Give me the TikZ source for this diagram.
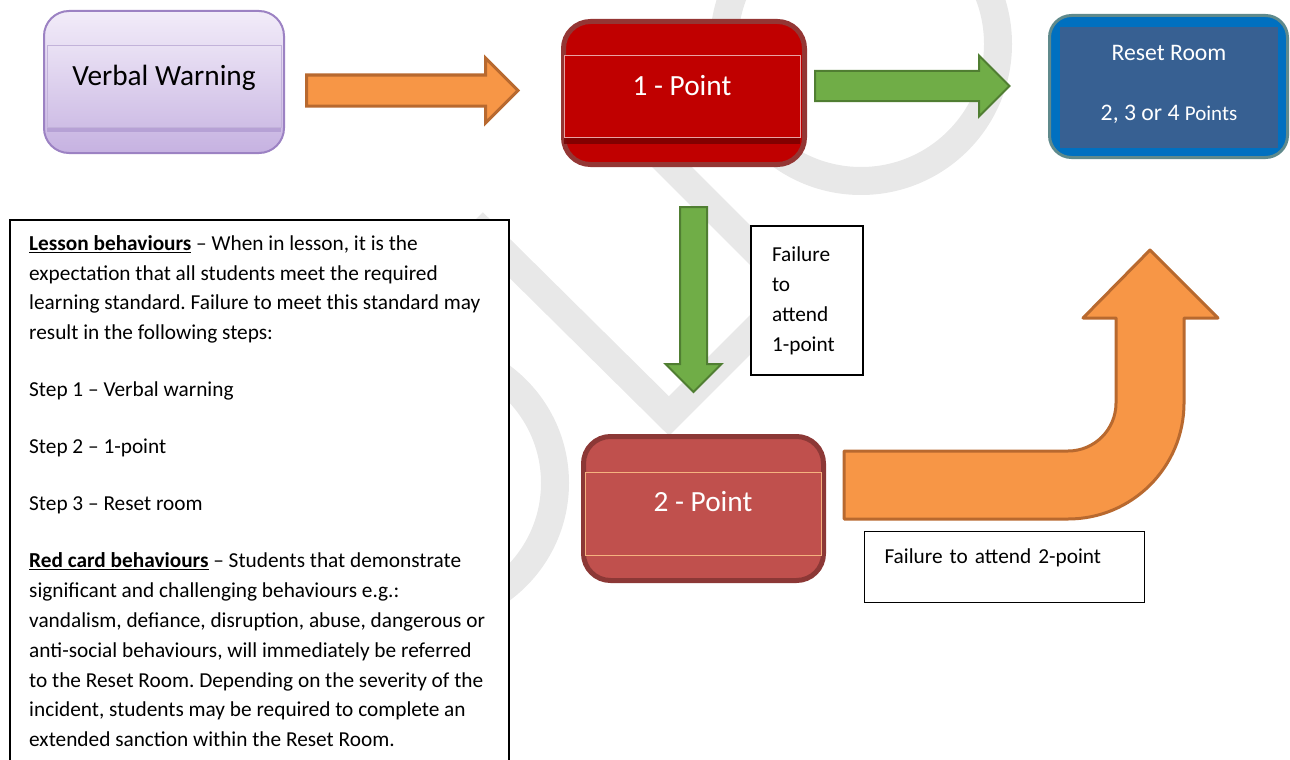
\documentclass[tikz,border=0pt]{standalone}
\usepackage{fontspec}
\setmainfont{Carlito}
\usepackage{tikz}
\usetikzlibrary{positioning,shapes.arrows,shadows,calc}
\definecolor{wmark}{HTML}{E8E8E8}
\definecolor{vwline}{HTML}{9C82C3}
\definecolor{vwtop}{HTML}{F2ECF9}
\definecolor{vwbot}{HTML}{C6B2E1}
\definecolor{vwband}{HTML}{C2B2DA}
\definecolor{onefill}{HTML}{C00000}
\definecolor{oneline}{HTML}{943634}
\definecolor{oneband}{HTML}{E8A3A3}
\definecolor{twofill}{HTML}{C0504D}
\definecolor{twoline}{HTML}{8C3836}
\definecolor{twoband}{HTML}{F5B27F}
\definecolor{rsline}{HTML}{5F8A8C}
\definecolor{rsframe}{HTML}{0070C0}
\definecolor{rsfill}{HTML}{376092}
\definecolor{orgfill}{HTML}{F79646}
\definecolor{orgline}{HTML}{B8692F}
\definecolor{grnfill}{HTML}{70AD47}
\definecolor{grnline}{HTML}{507E32}
\newcommand{\notefont}{\fontsize{21.3}{29.9}\selectfont\frenchspacing}
\newcommand{\cardfont}{\fontsize{29.3}{32}\selectfont}

\begin{document}
\begin{tikzpicture}[x=1pt, y=1pt,
  wm/.style={draw=wmark, line width=28pt, line join=miter},
  card/.style={rounded corners=#1, inner sep=0},
  bandbox/.style={rectangle, minimum width=236pt, inner sep=0, line width=0.8pt,
                  text height=39.5pt, text depth=42pt, font=\cardfont},
  blockarr/.style={single arrow, single arrow head extend=#1, single arrow tip angle=90,
                   inner sep=14pt, line width=2pt, anchor=tail, line join=miter},
  orangearr/.style={blockarr=17pt, draw=orgline, fill=orgfill, line width=3pt},
  greenarr/.style={blockarr=15.5pt, draw=grnline, fill=grnfill},
  notebox/.style={draw=black, fill=white, line width=1.5pt, inner sep=0, align=left,
                  font=\notefont},
  uarrow/.style={draw=orgline, fill=orgfill, line width=3pt, line join=round}]
\useasboundingbox (0,0) rectangle (1290,-760);
\draw[wm] (861,-44) circle[radius=137];
\draw[wm] (423,-483) circle[radius=132];
\draw[wm] (420,-295) -- (483,-232) -- (669,-416) -- (795,-290) -- (620,-115);
\node[draw=black, fill=white, line width=1.6pt, minimum width=499pt, minimum height=580pt,
      inner sep=0, anchor=north west] (rules) at (9,-219) {};
\node[font=\notefont, align=left, inner sep=0, anchor=north west] (rulestext)
      at ([xshift=20pt, yshift=-16pt]rules.north west)
  {\underline{\textbf{Lesson behaviours}} -- When in lesson, it is the\\
   expectation that all students meet the required\\
   learning standard. Failure to meet this standard may\\
   result in the following steps:\\[27pt]
   Step 1 -- Verbal warning\\[27pt]
   Step 2 -- 1-point\\[27pt]
   Step 3 -- Reset room\\[27pt]
   \underline{\textbf{Red card behaviours}} -- Students that demonstrate\\
   significant and challenging behaviours e.g.:\\
   vandalism, defiance, disruption, abuse, dangerous or\\
   anti-social behaviours, will immediately be referred\\
   to the Reset Room. Depending on the severity of the\\
   incident, students may be required to complete an\\
   extended sanction within the Reset Room.};
\node[card=25pt, draw=vwline, line width=2pt, top color=vwtop, bottom color=vwbot,
      minimum width=240pt, minimum height=142pt] (verbal) at (164,-82) {};
\node[bandbox, minimum width=234pt, draw=vwband, top color=vwtop!80!vwbot, bottom color=vwbot!85!white,
      drop shadow={shadow xshift=0pt, shadow yshift=-5pt, fill=vwline, opacity=.45}]
      (verbalband) at (164,-86.5) {Verbal Warning};
\node[card=27pt, draw=oneline, line width=5pt, fill=onefill,
      minimum width=241pt, minimum height=143pt] (onept) at (684,-93) {};
\node[bandbox, draw=oneband, fill=onefill, text=white,
      drop shadow={shadow xshift=0pt, shadow yshift=-7pt, fill=onefill!60!black, opacity=.8}]
      (oneband) at (682,-96.5) {1 - Point};
\node[card=22pt, draw=rsline, line width=3pt, fill=rsframe,
      minimum width=238pt, minimum height=142pt] (reset) at (1168.5,-86.5) {};
\node[fill=rsfill, minimum width=218pt, minimum height=121pt, inner sep=0, text=white,
      align=center, text depth=9pt, font=\fontsize{23.7}{60}\selectfont]
      (resettext) at (1169,-87.5) {Reset Room\\2, 3 or 4 {\fontsize{21}{60}\selectfont Points}};
\node[orangearr, minimum height=211.5pt] (toone) at ([xshift=20pt, yshift=-8.5pt]verbal.east) {};
\node[greenarr, minimum height=194.5pt] (toreset) at ([xshift=7pt, yshift=7pt]onept.east) {};
\node[greenarr, shape border rotate=270, inner sep=12.5pt, single arrow head extend=14.5pt,
      minimum height=185pt] (totwo) at ([xshift=9.5pt, yshift=-39pt]onept.south) {};
\node[notebox, minimum width=112pt, minimum height=149pt, text width=70pt]
      (fail1) at (807,-300.5) {Failure\\to\\attend\\1-point};
\node[card=27pt, draw=twoline, line width=5pt, fill=twofill,
      minimum width=240pt, minimum height=144pt] (twopt) at (703.5,-508.5) {};
\node[bandbox, draw=twoband, fill=twofill, text=white, text depth=43.5pt]
      (twoband) at (703,-513.5) {2 - Point};
\draw[uarrow] ([xshift=18pt, yshift=-10.5pt]twopt.east) -- ++(0,68) -- ++(224,0)
  arc[start angle=-90, end angle=0, radius=48] -- ++(0,85) -- ++(-33,0) -- ++(67,68)
  -- ++(68,-68) -- ++(-34,0) -- ++(0,-85) arc[start angle=0, end angle=-90, radius=116] -- cycle;
\node[notebox, minimum width=280pt, minimum height=71pt, text width=240pt, text depth=21pt]
      (fail2) at (1004.5,-567) {Failure to attend 2-point};
\end{tikzpicture}
\end{document}
